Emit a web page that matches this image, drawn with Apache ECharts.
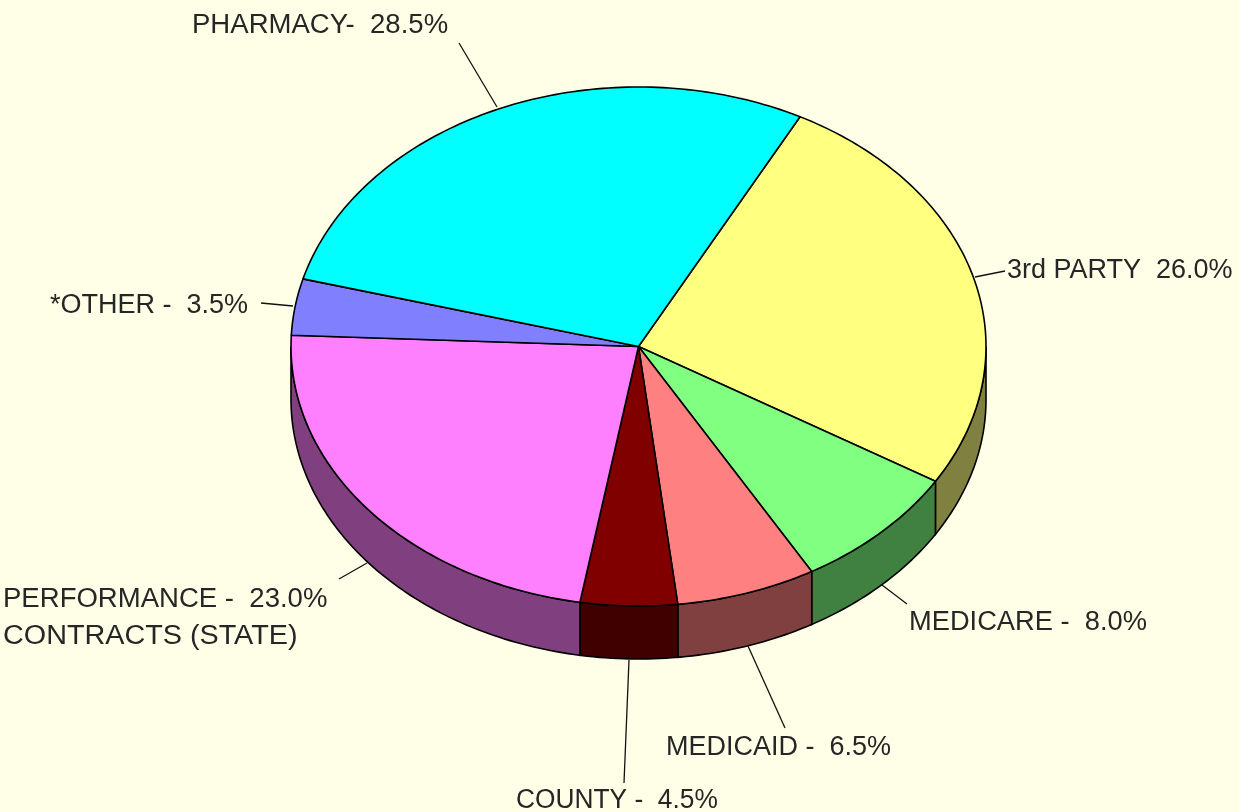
<!DOCTYPE html>
<html>
<head>
<meta charset="utf-8">
<title>Pie</title>
<script src="https://cdn.jsdelivr.net/npm/echarts@6/dist/echarts.min.js"></script>
<style>
  html, body { margin: 0; padding: 0; background: #ffffe8; }
  #chart { width: 1239px; height: 812px; }
</style>
</head>
<body>
<div id="chart"></div>
<script>
// slices, clockwise from the top-right edge of the yellow one
const sliceNames = ['3rd PARTY', 'MEDICARE', 'MEDICAID', 'COUNTY', 'PERFORMANCE CONTRACTS (STATE)', '*OTHER', 'PHARMACY']
const sliceValues = [26.0, 8.0, 6.5, 4.5, 23.0, 3.5, 28.5]
const sliceLabels = [
  ['3rd PARTY  26.0%'],
  ['MEDICARE -  8.0%'],
  ['MEDICAID -  6.5%'],
  ['COUNTY -  4.5%'],
  ['PERFORMANCE -  23.0%', 'CONTRACTS (STATE)'],
  ['*OTHER -  3.5%'],
  ['PHARMACY-  28.5%']
]

// colours
const topColors = ['#ffff80', '#80ff80', '#ff8080', '#800000', '#ff80ff', '#8080ff', '#00ffff']
const sideColors = ['#808040', '#408040', '#804040', '#400000', '#804080', '#404080', '#008080']

// pie geometry
const cx = 638.5
const cy = 346.5
const rx = 347.5
const ry = 259.5
const depth = 53
const startAngle = 27.7 // degrees clockwise from 12 o'clock

// where the labels sit and where their leader lines run
const labelPos = [[1007, 271], [909, 623], [666, 748], [516, 801], [3, 600], [50, 306], [192, 26]]
const labelStretch = [[1.0], [1.01], [1.0], [0.975], [1.02, 1.065], [1.0], [1.02]]
const lineGap = 37
const leaderLines = [
  [[975, 277], [1005, 271]],
  [[882, 585], [907, 604]],
  [[748, 646], [785, 728]],
  [[629, 660], [624, 783]],
  [[367, 563], [339, 579]],
  [[293, 306], [261, 303]],
  [[497, 107], [459, 43]]
]

const total = sliceValues.reduce((a, b) => a + b, 0)
const sliceAngles = []
let acc = startAngle
sliceValues.forEach((v) => {
  const end = acc + (v / total) * 360
  sliceAngles.push([acc, end])
  acc = end
})

const rimPoint = (deg, dy = 0) => {
  const a = (deg * Math.PI) / 180
  return [cx + rx * Math.sin(a), cy - ry * Math.cos(a) + dy]
}

const rimPoints = (from, to, dy = 0) => {
  const pts = []
  for (let d = from; d < to; d += 1) pts.push(rimPoint(d, dy))
  pts.push(rimPoint(to, dy))
  return pts
}

// 侧面: only the part of the rim facing the viewer (90 to 270 degrees)
const renderSide = (params) => {
  const [a0, a1] = sliceAngles[params.dataIndex]
  const from = Math.max(a0, 90)
  const to = Math.min(a1, 270)
  if (from >= to) return { type: 'group', children: [] }
  return {
    type: 'polygon',
    shape: { points: rimPoints(from, to).concat(rimPoints(from, to, depth).reverse()) },
    style: { fill: sideColors[params.dataIndex], stroke: '#000', lineWidth: 1.6 }
  }
}

const renderTop = (params) => {
  const [a0, a1] = sliceAngles[params.dataIndex]
  return {
    type: 'polygon',
    shape: { points: [[cx, cy]].concat(rimPoints(a0, a1)) },
    style: { fill: topColors[params.dataIndex], stroke: '#000', lineWidth: 1.6, lineJoin: 'round' }
  }
}

const renderLabel = (params) => {
  const i = params.dataIndex
  const children = [
    {
      type: 'line',
      shape: {
        x1: leaderLines[i][0][0],
        y1: leaderLines[i][0][1],
        x2: leaderLines[i][1][0],
        y2: leaderLines[i][1][1]
      },
      style: { stroke: '#111', lineWidth: 1.3 }
    }
  ]
  sliceLabels[i].forEach((line, n) => {
    children.push({
      type: 'text',
      x: labelPos[i][0],
      y: labelPos[i][1] + n * lineGap,
      scaleX: labelStretch[i][n],
      style: {
        text: line,
        fill: '#262626',
        font: '27px "Liberation Sans", Arial, sans-serif',
        align: 'left',
        verticalAlign: 'middle'
      }
    })
  })
  return { type: 'group', children }
}

const sliceData = sliceNames.map((name, i) => ({ name, value: sliceValues[i] }))

const chart = echarts.init(document.getElementById('chart'), null, { renderer: 'canvas' })
chart.setOption({
  backgroundColor: '#ffffe8',
  animation: false,
  series: [
    { type: 'custom', coordinateSystem: 'none', silent: true, z: 1, data: sliceData, renderItem: renderSide },
    { type: 'custom', coordinateSystem: 'none', silent: true, z: 2, data: sliceData, renderItem: renderTop },
    { type: 'custom', coordinateSystem: 'none', silent: true, z: 3, data: sliceData, renderItem: renderLabel }
  ]
})
</script>
</body>
</html>
